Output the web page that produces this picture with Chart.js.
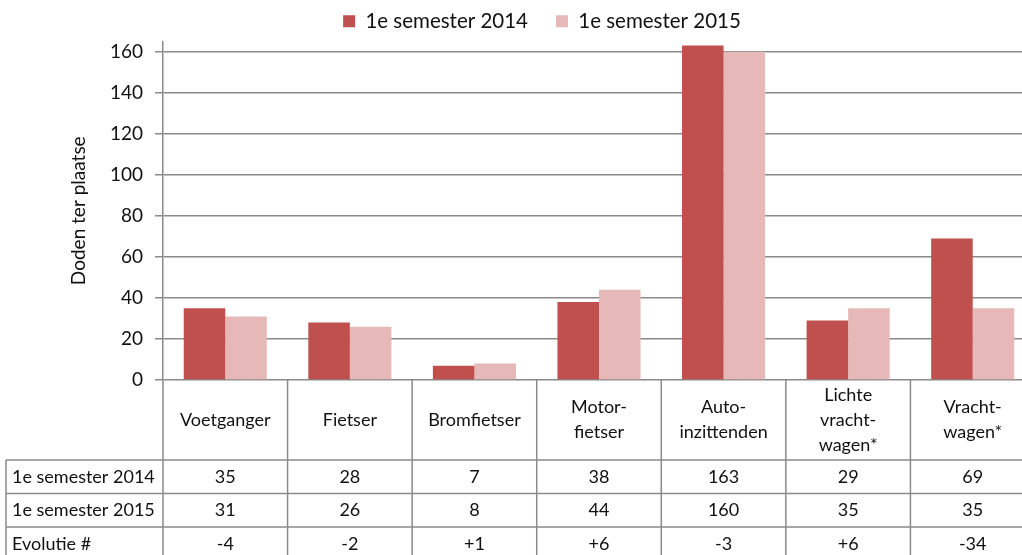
<!DOCTYPE html>
<html><head><meta charset="utf-8">
<script src="https://cdn.jsdelivr.net/npm/chart.js@4.4.1/dist/chart.umd.min.js"></script>
<style>
html,body{margin:0;padding:0;overflow:hidden;background:#fff;}
#wrap{width:1084px;height:555px;position:relative;}
</style></head><body>
<div id="wrap"><canvas id="c" width="1084" height="555"></canvas></div>
<script>
const categories = [['Voetganger'],['Fietser'],['Bromfietser'],['Motor-','fietser'],['Auto-','inzittenden'],['Lichte','vracht-','wagen*'],['Vracht-','wagen*']];
const seriesNames = ['1e semester 2014','1e semester 2015'];
const values2014 = [35,28,7,38,163,29,69];
const values2015 = [31,26,8,44,160,35,35];
const evolution = ['-4','-2','+1','+6','-3','+6','-34'];
const evolutionLabel = 'Evolutie #';
const yTicks = [0,20,40,60,80,100,120,140,160];
const yTitle = 'Doden ter plaatse';

const FONT = 'Lato';
const gridColor = '#8a8a8a';
const textColor = '#111';

const tablePlugin = {
  id: 'dataTable',
  afterDraw(chart) {
    const ctx = chart.ctx, xs = chart.scales.x, area = chart.chartArea;
    const n = categories.length;
    const step = xs.getPixelForValue(1) - xs.getPixelForValue(0);
    const base = area.bottom;
    const headerBottom = base + 80;
    const rowH = 33.5;
    const tableLeft = 6;
    const bottom = chart.height + 20;
    ctx.save();
    ctx.strokeStyle = gridColor;
    ctx.lineWidth = 1.5;
    const line = (x1,y1,x2,y2)=>{ctx.beginPath();ctx.moveTo(x1,y1);ctx.lineTo(x2,y2);ctx.stroke();};
    for (let i = 0; i <= n; i++) {
      const x = xs.getPixelForValue(i) - step/2;
      line(x, base, x, bottom);
    }
    line(tableLeft, headerBottom, tableLeft, bottom);
    for (let r = 0; r < 3; r++) {
      const y = headerBottom + r*rowH;
      line(tableLeft, y, area.right, y);
    }
    ctx.fillStyle = textColor;
    ctx.textAlign = 'center';
    ctx.textBaseline = 'middle';
    ctx.font = '18px ' + FONT;
    const lh = 25;
    categories.forEach((lines, i) => {
      const cx = xs.getPixelForValue(i);
      const cy = (base + headerBottom)/2;
      lines.forEach((t, k) => {
        ctx.fillText(t, cx, cy + (k - (lines.length-1)/2)*lh);
      });
    });
    const rows = [[seriesNames[0], values2014.map(String)], [seriesNames[1], values2015.map(String)], [evolutionLabel, evolution]];
    rows.forEach((row, r) => {
      const cy = headerBottom + r*rowH + rowH/2;
      ctx.textAlign = 'left';
      ctx.fillText(row[0], tableLeft + 6, cy);
      ctx.textAlign = 'center';
      row[1].forEach((v, i) => ctx.fillText(v, xs.getPixelForValue(i), cy));
    });
    ctx.restore();
  }
};

new Chart(document.getElementById('c'), {
  type: 'bar',
  data: {
    labels: categories.map(l => l.join(' ')),
    datasets: [
      {label: seriesNames[0], data: values2014, backgroundColor: '#C0504D'},
      {label: seriesNames[1], data: values2015, backgroundColor: '#E6B9B8'}
    ]
  },
  options: {
    responsive: false,
    animation: false,
    devicePixelRatio: 1,
    layout: {padding: {left: 49, right: 49, top: -17, bottom: 175}},
    datasets: {bar: {categoryPercentage: 0.667, barPercentage: 1.0}},
    plugins: {
      legend: {
        position: 'top',
        maxHeight: 59,
        labels: {boxWidth: 12, boxHeight: 12, padding: 28, color: textColor, font: {family: FONT, size: 20.5}}
      },
      tooltip: {enabled: false}
    },
    scales: {
      x: {display: false},
      y: {
        min: 0, max: 165,
        afterBuildTicks: s => { s.ticks = yTicks.map(v => ({value: v})); },
        afterFit: s => { s.width = 114; },
        grid: {color: gridColor, lineWidth: 1.5, tickLength: 8, tickColor: gridColor},
        border: {color: gridColor, width: 1.5},
        ticks: {color: textColor, padding: 12, font: {family: FONT, size: 19}},
        title: {display: true, text: yTitle, color: textColor, padding: {top: 18, bottom: 0}, font: {family: FONT, size: 19}}
      }
    }
  },
  plugins: [tablePlugin]
});
</script>
</body></html>
